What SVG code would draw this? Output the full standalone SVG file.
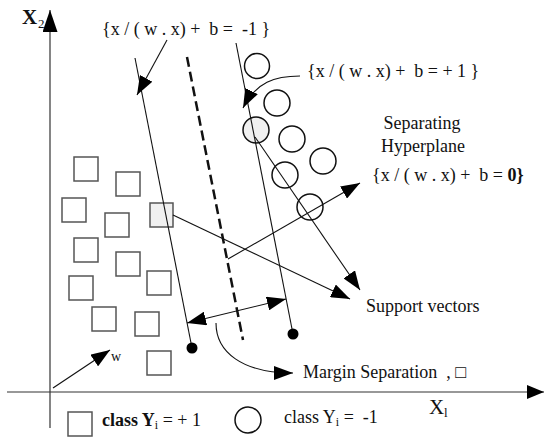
<svg xmlns="http://www.w3.org/2000/svg" width="544" height="440" viewBox="0 0 544 440">
<style>
text{font-family:"Liberation Serif","Times New Roman",serif;fill:#111}
.t{font-size:18px}
.sq{fill:#fff;stroke:#555;stroke-width:1.5}
.ci{fill:#fff;stroke:#111;stroke-width:1.5}
.sv{fill:#f0f0f0}
.ln{fill:none;stroke:#111;stroke-width:1.1}
.ax{fill:none;stroke:#333;stroke-width:1.2}
.ar{fill:none;stroke:#111;stroke-width:1.1;marker-end:url(#ah)}
</style>
<defs>
<marker id="ah" viewBox="0 0 19 14" refX="19" refY="7" markerWidth="19" markerHeight="14" markerUnits="userSpaceOnUse" orient="auto-start-reverse"><path d="M0,0 L19,7 L0,14 z" fill="#000"/></marker>
<marker id="axv" viewBox="0 0 22 15" refX="22" refY="7.5" markerWidth="22" markerHeight="15" markerUnits="userSpaceOnUse" orient="auto"><path d="M0,0 L22,7.5 L0,15 z" fill="#000"/></marker>
<marker id="axh" viewBox="0 0 17 14" refX="17" refY="7" markerWidth="17" markerHeight="14" markerUnits="userSpaceOnUse" orient="auto"><path d="M0,0 L17,7 L0,14 z" fill="#000"/></marker>
</defs>
<g id="axes">
<line class="ax" x1="50" y1="428" x2="50" y2="10" marker-end="url(#axv)"/>
<line class="ax" x1="7" y1="392" x2="544" y2="392" marker-end="url(#axh)"/>
<text x="22" y="24" style="font-size:21px;font-weight:bold">X</text><text x="38" y="28" style="font-size:13px">2</text>
<text x="429" y="414" style="font-size:21px">X</text><text x="444" y="417" style="font-size:13px">l</text>
</g>
<g id="class-plus1">
<rect class="sq" x="74" y="157" width="24" height="24"/>
<rect class="sq" x="116" y="172" width="24" height="24"/>
<rect class="sq" x="62" y="198" width="24" height="24"/>
<rect class="sq" x="105" y="213" width="24" height="24"/>
<rect class="sq" x="74" y="238" width="24" height="24"/>
<rect class="sq" x="116" y="252" width="24" height="24"/>
<rect class="sq" x="69" y="276" width="24" height="24"/>
<rect class="sq" x="147" y="271" width="24" height="24"/>
<rect class="sq" x="92" y="307" width="24" height="24"/>
<rect class="sq" x="135" y="312" width="24" height="24"/>
<rect class="sq" x="147" y="351" width="24" height="24"/>
<rect id="sv-square" class="sq sv" x="150" y="203" width="23" height="24"/>
</g>
<g id="class-minus1">
<circle class="ci" cx="257" cy="66" r="12.5"/>
<circle class="ci" cx="277" cy="103" r="13"/>
<circle class="ci" cx="292" cy="139" r="13"/>
<circle class="ci" cx="285" cy="175" r="13"/>
<circle class="ci" cx="323" cy="161" r="13"/>
<circle class="ci" cx="310" cy="207" r="13"/>
<circle id="sv-circle" class="ci sv" cx="256" cy="130" r="13"/>
</g>
<g id="hyperplanes">
<line class="ln" x1="135" y1="58" x2="192" y2="348"/>
<line class="ln" x1="236" y1="43" x2="293" y2="334"/>
<line x1="187" y1="57" x2="243" y2="340" stroke="#111" stroke-width="2.5" stroke-dasharray="10,5"/>
<circle cx="192" cy="348" r="5.5" fill="#000"/>
<circle cx="293" cy="334" r="5.5" fill="#000"/>
</g>
<g id="connectors">
<line class="ar" x1="167" y1="40" x2="137" y2="95"/>
<path class="ar" d="M300,76 C275,76 256,82 243,108"/>
<line class="ar" x1="173" y1="215" x2="350" y2="299"/>
<line class="ar" x1="255" y1="137" x2="360" y2="290"/>
<line class="ar" x1="228" y1="259" x2="360" y2="183"/>
<line class="ar" x1="286" y1="299" x2="187" y2="323" style="marker-start:url(#ah)"/>
<path class="ar" d="M216,323 C216,352 242,373 293,373"/>
<line class="ar" x1="53" y1="388" x2="110" y2="350"/>
</g>
<g id="labels">
<text class="t" x="102" y="35" xml:space="preserve">{x / ( w . x) +  b =  -1 }</text>
<text class="t" x="307" y="77" xml:space="preserve">{x / ( w . x) +  b = + 1 }</text>
<text class="t" x="422" y="129" text-anchor="middle">Separating</text>
<text class="t" x="423" y="152" text-anchor="middle">Hyperplane</text>
<text class="t" x="372" y="181" xml:space="preserve">{x / ( w . x) +  b = <tspan font-weight="bold">0}</tspan></text>
<text class="t" x="366" y="312">Support vectors</text>
<text class="t" x="303" y="378" xml:space="preserve">Margin Separation  , □</text>
<text x="111" y="361" style="font-size:14px">w</text>
</g>
<g id="legend">
<rect class="sq" x="68" y="412" width="24" height="24"/>
<text class="t" x="102" y="426" xml:space="preserve"><tspan font-weight="bold">class Y</tspan><tspan style="font-size:12px" dy="3">i</tspan><tspan dy="-3"> = + 1</tspan></text>
<circle class="ci" cx="248" cy="420" r="13"/>
<text class="t" x="284" y="423" xml:space="preserve">class Y<tspan style="font-size:12px" dy="3">i</tspan><tspan dy="-3"> =  -1</tspan></text>
</g>
</svg>
